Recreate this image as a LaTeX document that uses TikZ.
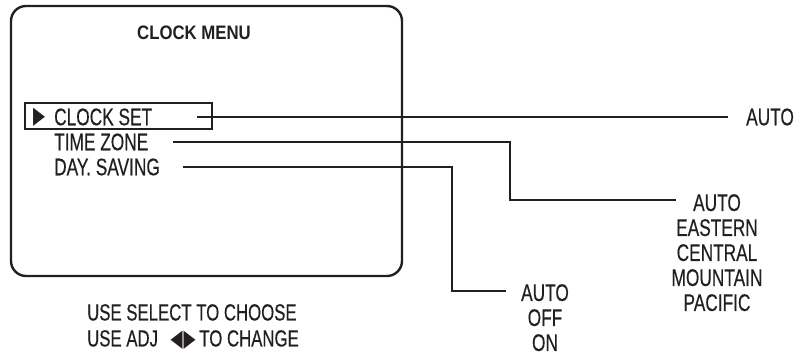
\documentclass[tikz,border=0pt]{standalone}
\usepackage{fontspec}
\usepackage{graphicx}
\setmainfont[FakeStretch=0.72,FakeBold=0.4]{Liberation Sans}
\newfontfamily\titlefont[FakeStretch=0.86]{Liberation Sans}
\newfontfamily\symfont{DejaVu Sans}
\definecolor{ink}{RGB}{35,31,32}
\newcommand\pointright{{\symfont\fontsize{20}{20}\selectfont\scalebox{0.78}[1.2]{▶}}}
\newcommand\pointleft{{\symfont\fontsize{20}{20}\selectfont\scalebox{0.78}[1.2]{◀}}}

\tikzset{
	item/.style={inner sep=0pt, text=ink, font=\fontsize{24}{25}\selectfont},
	choice/.style={item, align=center},
	title/.style={inner sep=0pt, text=ink, font=\titlefont\bfseries\fontsize{19.5}{22}\selectfont},
	wire/.style={draw=ink, line width=1.4pt}
}

\begin{document}
\begin{tikzpicture}[x=1pt, y=-1pt]
			\useasboundingbox (0,0) rectangle (801,358);
			\draw [ink, line width=2.4pt, rounded corners=15pt] (11,6) rectangle (402,276);
			\node [title] (menutitle) at (194,33) {CLOCK MENU};
			\node [draw=ink, line width=1.4pt, minimum width=187pt, minimum height=26pt] (cursor) at (118.5,116) {};
			\node [item] (pointer) at (39,117) {\pointright};
			\node [item, anchor=west] (clockset) at (54,117) {CLOCK SET};
			\node [item, anchor=west] (timezone) at (54,142) {TIME ZONE};
			\node [item, anchor=west] (daysaving) at (54,167) {DAY. SAVING};
			\node [item, anchor=north west, align=left, font=\fontsize{23.3}{26}\selectfont] (help) at (87,304) {USE SELECT TO CHOOSE\\USE ADJ\hspace{8pt} \pointleft\hspace{1pt}\pointright\hspace{-1pt} TO CHANGE};
			% options on the right
			\node [choice, anchor=west] (clockauto) at (746,117) {AUTO};
			\node [choice, anchor=north] (zonelist) at (717,194) {AUTO\\EASTERN\\CENTRAL\\MOUNTAIN\\PACIFIC};
			\node [choice, anchor=north] (savinglist) at (545,284) {AUTO\\OFF\\ON};
			\coordinate (zonebend) at (510,200);
			\coordinate (zoneend) at (676,200);
			\coordinate (savingbend) at (452,291);
			\coordinate (savingend) at (506,291);
			\draw [wire] ([xshift=45pt]clockset.east) -- ([xshift=-18pt]clockauto.west);
			\draw [wire] ([xshift=25pt]timezone.east) -| (zonebend) -- (zoneend);
			\draw [wire] ([xshift=23pt]daysaving.east) -| (savingbend) -- (savingend);
	\end{tikzpicture}
\end{document}
